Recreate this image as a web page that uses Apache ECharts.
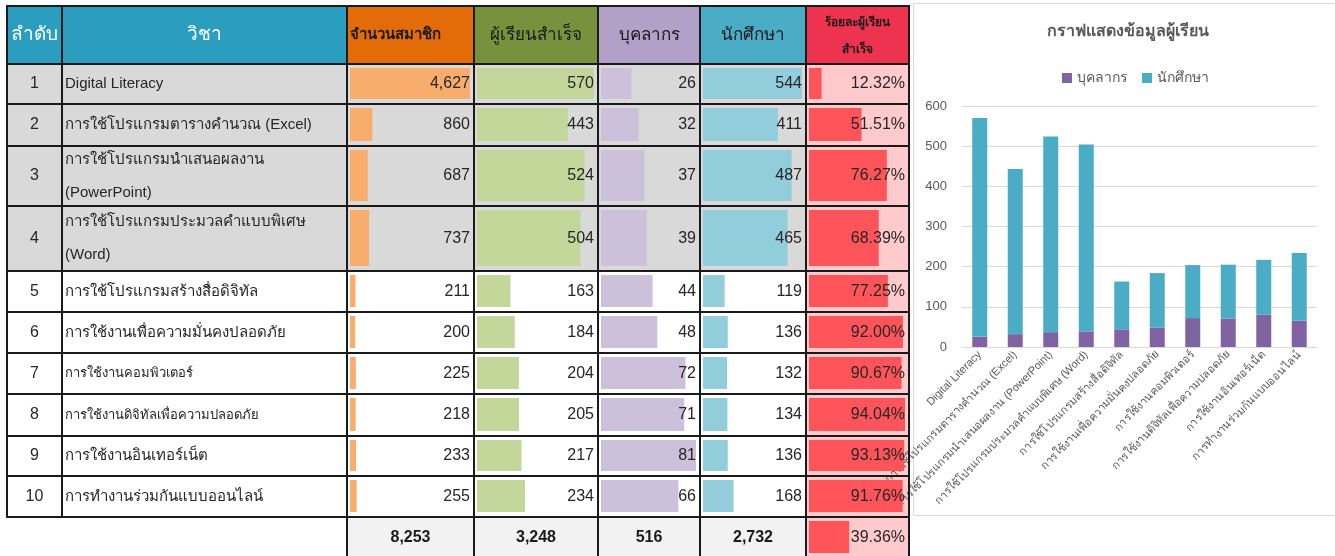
<!DOCTYPE html>
<html>
<head>
<meta charset="utf-8">
<script src="https://cdn.jsdelivr.net/npm/echarts@6/dist/echarts.min.js"></script>
<style>
  html, body { margin: 0; padding: 0; background: #fff; }
  #main { width: 1335px; height: 556px; }
</style>
</head>
<body>
<div id="main"></div>
<script>
// ข้อมูล
const subjects = [
  'Digital Literacy',
  'การใช้โปรแกรมตารางคำนวณ (Excel)',
  'การใช้โปรแกรมนำเสนอผลงาน (PowerPoint)',
  'การใช้โปรแกรมประมวลคำแบบพิเศษ (Word)',
  'การใช้โปรแกรมสร้างสื่อดิจิทัล',
  'การใช้งานเพื่อความมั่นคงปลอดภัย',
  'การใช้งานคอมพิวเตอร์',
  'การใช้งานดิจิทัลเพื่อความปลอดภัย',
  'การใช้งานอินเทอร์เน็ต',
  'การทำงานร่วมกันแบบออนไลน์'
];
const members = [4627, 860, 687, 737, 211, 200, 225, 218, 233, 255];
const graduates = [570, 443, 524, 504, 163, 184, 204, 205, 217, 234];
const staff = [26, 32, 37, 39, 44, 48, 72, 71, 81, 66];
const students = [544, 411, 487, 465, 119, 136, 132, 134, 136, 168];
const percents = [12.32, 51.51, 76.27, 68.39, 77.25, 92.00, 90.67, 94.04, 93.13, 91.76];
const totals = [8253, 3248, 516, 2732];
const totalPercent = 39.36;
const headers = ['ลำดับ', 'วิชา', 'จำนวนสมาชิก', 'ผู้เรียนสำเร็จ', 'บุคลากร', 'นักศึกษา', 'ร้อยละผู้เรียน\nสำเร็จ'];
const chartTitle = 'กราฟแสดงข้อมูลผู้เรียน';
const yTicks = { min: 0, max: 600, interval: 100 };

// ตำแหน่งตาราง
const FONT = '"Liberation Sans", Arial, sans-serif';
const colX = [7, 62, 347, 474, 598, 700, 806, 909];
const rowY = [6, 64, 104, 146, 206, 271, 312, 353, 394, 436, 476, 517, 558];
const headBg = ['#2b9ec0', '#2b9ec0', '#e36c09', '#76923c', '#b1a0c7', '#4bacc6', '#ee3350'];
const headColor = ['#fff', '#fff', '#1a1a1a', '#1a1a1a', '#1a1a1a', '#1a1a1a', '#1a1a1a'];
const headSize = [19, 19, 15, 17, 17, 17, 12];
const barColor = ['#f9ad6d', '#c4d79b', '#ccc0da', '#92cddc', '#ff555a'];
const subjectFont = [15, 15, 15, 15, 15, 15, 13, 13, 15, 15];

let chart = echarts.init(document.getElementById('main'));

let graphics = [];
// พื้นหลังเซลล์
for (let r = 0; r < 11; r++) {
  for (let c = 0; c < 7; c++) {
    if (r === 10 && c < 2) continue;
    let fill = r < 4 ? '#d9d9d9' : '#fff';
    if (r === 10) fill = '#f2f2f2';
    if (c === 6) fill = '#ffcacc';
    graphics.push({
      type: 'rect', z: 0, silent: true,
      shape: { x: colX[c], y: rowY[r + 1], width: colX[c + 1] - colX[c], height: rowY[r + 2] - rowY[r + 1] },
      style: { fill: fill }
    });
  }
}
// หัวตาราง
headers.forEach((h, c) => {
  graphics.push({
    type: 'rect', z: 0, silent: true,
    shape: { x: colX[c], y: rowY[0], width: colX[c + 1] - colX[c], height: rowY[1] - rowY[0] },
    style: { fill: headBg[c] }
  });
  let small = c === 6;
  graphics.push({
    type: 'text', z: 11, silent: true,
    style: {
      text: h,
      x: c === 2 ? colX[c] + 3 : (colX[c] + colX[c + 1]) / 2,
      y: (rowY[0] + rowY[1]) / 2 + (small ? 1 : 0),
      align: c === 2 ? 'left' : 'center',
      verticalAlign: 'middle',
      fontFamily: FONT,
      fontSize: headSize[c],
      fontWeight: small || c === 2 ? 'bold' : 'normal',
      lineHeight: small ? 27 : 20,
      fill: headColor[c]
    }
  });
});
// ลำดับ + ชื่อวิชา
subjects.forEach((name, i) => {
  let top = rowY[i + 1], bottom = rowY[i + 2];
  let tall = bottom - top > 55;
  graphics.push({
    type: 'text', z: 11, silent: true,
    style: {
      text: String(i + 1), x: (colX[0] + colX[1]) / 2, y: (top + bottom) / 2,
      align: 'center', verticalAlign: 'middle', fontFamily: FONT, fontSize: 16, fill: '#262626'
    }
  });
  graphics.push({
    type: 'text', z: 11, silent: true,
    style: {
      text: tall ? name.replace(' (', '\n(') : name,
      x: colX[1] + 3, y: (top + bottom) / 2,
      align: 'left', verticalAlign: 'middle', fontFamily: FONT,
      fontSize: subjectFont[i], lineHeight: 33, fill: '#262626'
    }
  });
});
// ผลรวม
totals.forEach((v, k) => {
  graphics.push({
    type: 'text', z: 11, silent: true,
    style: {
      text: v.toLocaleString('en-US'),
      x: (colX[k + 2] + colX[k + 3]) / 2, y: (rowY[11] + rowY[12]) / 2,
      align: 'center', verticalAlign: 'middle', fontFamily: FONT,
      fontSize: 16, fontWeight: 'bold', fill: '#1a1a1a'
    }
  });
});
// เส้นตาราง
for (let r = 0; r < 12; r++) {
  for (let c = 0; c < 7; c++) {
    if (r === 11 && c < 2) continue;
    graphics.push({
      type: 'rect', z: 10, silent: true,
      shape: { x: colX[c], y: rowY[r], width: colX[c + 1] - colX[c], height: rowY[r + 1] - rowY[r] },
      style: { fill: null, stroke: '#1a1a1a', lineWidth: 2 }
    });
  }
}
// กรอบกราฟ
graphics.push({
  type: 'rect', z: 0, silent: true,
  shape: { x: 913.5, y: 3.5, width: 430, height: 512 },
  style: { fill: '#fff', stroke: '#d9d9d9', lineWidth: 1 }
});

// data bar ในตาราง
const barCols = [
  { data: members, fmt: v => v.toLocaleString('en-US') },
  { data: graduates, fmt: v => String(v) },
  { data: staff, fmt: v => String(v) },
  { data: students, fmt: v => String(v) },
  { data: percents.concat([totalPercent]), fmt: v => v.toFixed(2) + '%' }
];

let grids = [], xAxes = [], yAxes = [], series = [];
barCols.forEach((col, k) => {
  let c = k + 2;
  grids.push({ left: colX[c] + 3, width: colX[c + 1] - colX[c] - 7, top: rowY[1], height: rowY[12] - rowY[1] });
  xAxes.push({ gridIndex: k, type: 'value', min: 0, max: 'dataMax', show: false });
  yAxes.push({ gridIndex: k, type: 'category', data: col.data.map((_, i) => i), show: false, inverse: true });
  series.push({
    type: 'custom',
    xAxisIndex: k, yAxisIndex: k,
    z: 5,
    data: col.data.map((v, i) => [v, i]),
    renderItem: function (params, api) {
      let v = api.value(0), i = api.value(1);
      let x0 = api.coord([0, i])[0];
      let x1 = api.coord([v, i])[0];
      let top = rowY[i + 1], bottom = rowY[i + 2];
      return {
        type: 'group',
        children: [
          {
            type: 'rect',
            shape: { x: x0, y: top + 4, width: x1 - x0, height: bottom - top - 9 },
            style: { fill: barColor[k] }
          },
          {
            type: 'text',
            style: {
              text: col.fmt(v), x: colX[c + 1] - 4, y: (top + bottom) / 2,
              align: 'right', verticalAlign: 'middle', fontFamily: FONT,
              fontSize: 16, fill: '#262626'
            }
          }
        ]
      };
    }
  });
});

// กราฟแท่งซ้อน
grids.push({ left: 962, right: 18, top: 106, bottom: 209 });
xAxes.push({
  gridIndex: 5, type: 'category', data: subjects,
  axisTick: { show: false },
  axisLine: { lineStyle: { color: '#d9d9d9' } },
  axisLabel: { rotate: 45, interval: 0, fontSize: 11, color: '#595959', fontFamily: FONT, margin: 6 }
});
yAxes.push({
  gridIndex: 5, type: 'value', min: yTicks.min, max: yTicks.max, interval: yTicks.interval,
  axisLine: { show: false }, axisTick: { show: false },
  splitLine: { lineStyle: { color: '#d9d9d9' } },
  axisLabel: { fontSize: 13, color: '#595959', fontFamily: FONT, margin: 15 }
});
series.push({
  name: 'บุคลากร', type: 'bar', stack: 'total', xAxisIndex: 5, yAxisIndex: 5,
  barWidth: 15, itemStyle: { color: '#8064a2' }, data: staff
});
series.push({
  name: 'นักศึกษา', type: 'bar', stack: 'total', xAxisIndex: 5, yAxisIndex: 5,
  barWidth: 15, itemStyle: { color: '#4bacc6' }, data: students
});

let option = {
  animation: false,
  title: {
    text: chartTitle, left: 1123, top: 19, textAlign: 'center',
    textStyle: { fontFamily: FONT, fontSize: 16, fontWeight: 'bold', color: '#595959' }
  },
  legend: {
    data: ['บุคลากร', 'นักศึกษา'], left: 1057, top: 66,
    itemWidth: 10, itemHeight: 10, icon: 'rect', itemGap: 14,
    textStyle: { fontFamily: FONT, fontSize: 14, color: '#595959' }
  },
  graphic: graphics,
  grid: grids,
  xAxis: xAxes,
  yAxis: yAxes,
  series: series
};

chart.setOption(option);
window.addEventListener('resize', () => { chart.resize(); });
</script>
</body>
</html>
